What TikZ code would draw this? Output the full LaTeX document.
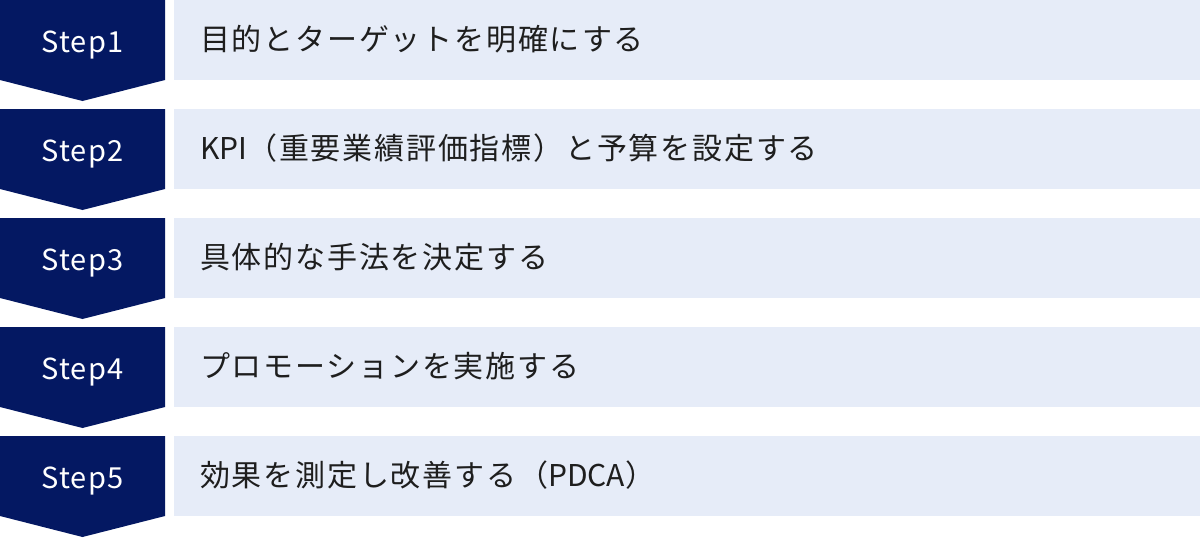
\documentclass[tikz,border=0pt]{standalone}
\usepackage{fontspec}
\setmainfont{Noto Sans CJK JP}
\newfontfamily\jpfont[LetterSpace=6]{Noto Sans CJK JP}
\newfontfamily\latinfont{Noto Sans CJK JP}
\newfontfamily\stepfont[LetterSpace=4]{Noto Sans CJK JP}
\definecolor{stepnavy}{HTML}{041862}
\definecolor{rowblue}{HTML}{E6ECF8}
\definecolor{inktext}{HTML}{1E1E1E}
\tikzset{
  stepbox/.style={fill=stepnavy},
  rowbox/.style={fill=rowblue},
  steplabel/.style={anchor=base,inner sep=0pt,text=white,font=\stepfont\fontsize{29}{29}\selectfont},
  rowlabel/.style={anchor=base west,inner sep=0pt,text=inktext,font=\jpfont\fontsize{30}{30}\selectfont}
}
\newcommand\lt[1]{{\latinfont #1}}

\begin{document}
\begin{tikzpicture}[x=1pt,y=-1pt]
\useasboundingbox (0,0) rectangle (1200,538);
\foreach \i/\txt in {1/目的とターゲットを明確にする,
                     2/\lt{KPI}（重要業績評価指標）と予算を設定する,
                     3/具体的な手法を決定する,
                     4/プロモーションを実施する,
                     5/効果を測定し改善する（\lt{PDCA}）}
{
  \pgfmathsetmacro\top{(\i-1)*109}
  \fill[rowbox] (174,\top) rectangle (1200,\top+80);
  \fill[stepbox] (0,\top) -- (165,\top) -- (165,\top+80)
    -- (82.5,\top+101) -- (0,\top+80) -- cycle;
  \node[steplabel] (step\i) at (82.5,\top+52) {Step\i};
  \node[rowlabel] (task\i) at (200,\top+50) {\txt};
}
\end{tikzpicture}
\end{document}
